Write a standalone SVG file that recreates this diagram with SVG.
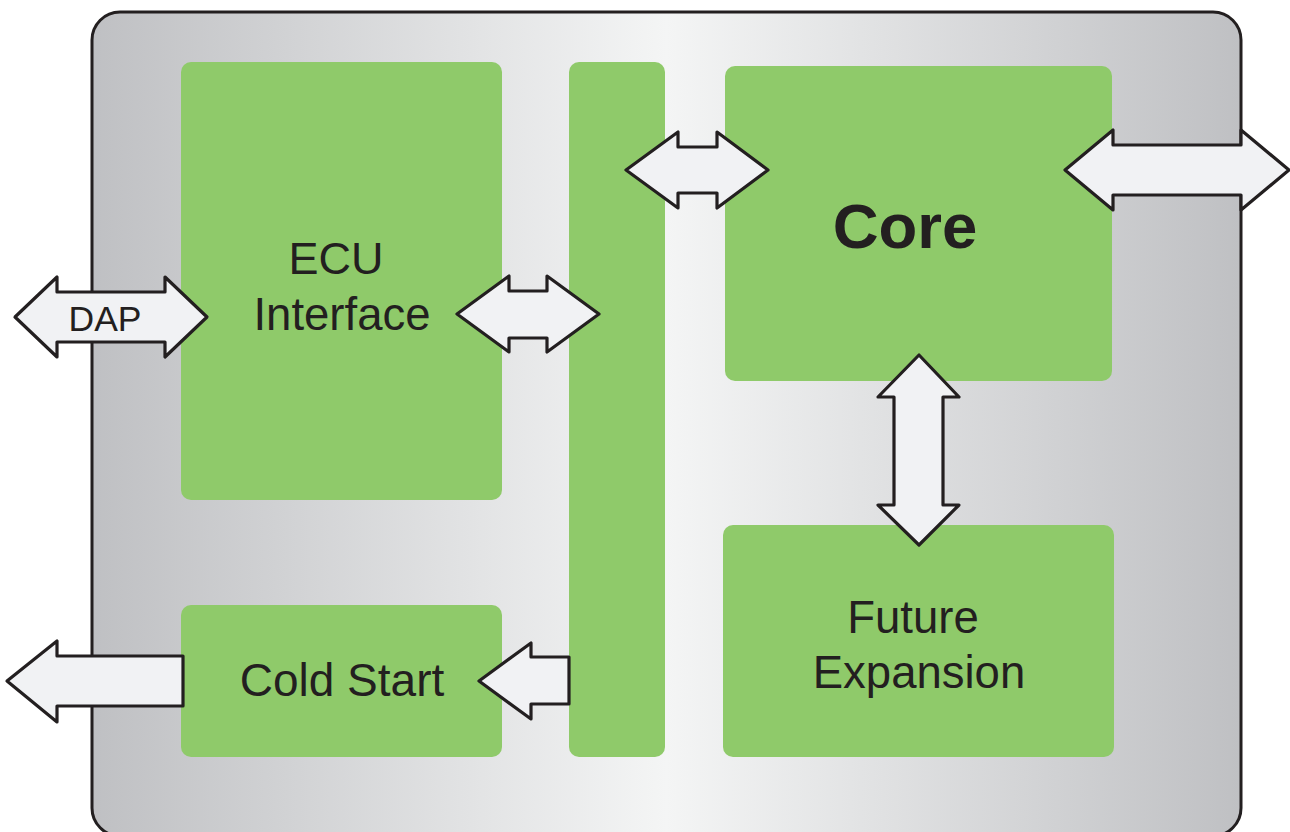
<svg xmlns="http://www.w3.org/2000/svg" width="1290" height="832" viewBox="0 0 1290 832">
<defs>
<linearGradient id="bg" x1="0" y1="0" x2="1" y2="0">
<stop offset="0" stop-color="#bfc0c3"/>
<stop offset="0.5" stop-color="#f4f5f5"/>
<stop offset="1" stop-color="#bfc0c3"/>
</linearGradient>
<style>
.blk{fill:#8fca6a}
.arr{fill:#f1f2f4;stroke:#231f20;stroke-width:3.2;stroke-linejoin:round}
.t{font-family:"Liberation Sans",Arial,sans-serif;fill:#231f20;text-anchor:middle}
</style>
</defs>
<g id="chip">
<rect x="92" y="12" width="1149" height="824" rx="28" fill="url(#bg)" stroke="#231f20" stroke-width="3"/>
</g>
<g id="ecu">
<rect class="blk" x="181" y="62" width="321" height="438" rx="10"/>
<text class="t" x="336" y="274" font-size="45">ECU</text>
<text class="t" x="342" y="330" font-size="45.5">Interface</text>
</g>
<g id="bus">
<rect class="blk" x="569" y="62" width="96" height="695" rx="10"/>
</g>
<g id="core">
<rect class="blk" x="725" y="66" width="387" height="315" rx="10"/>
<text class="t" x="905" y="248" font-size="63.5" font-weight="bold">Core</text>
</g>
<g id="future">
<rect class="blk" x="723" y="525" width="391" height="232" rx="10"/>
<text class="t" x="913" y="633" font-size="45.5">Future</text>
<text class="t" x="919" y="688" font-size="45.5">Expansion</text>
</g>
<g id="coldstart">
<rect class="blk" x="181" y="605" width="321" height="152" rx="10"/>
<text class="t" x="342" y="696" font-size="46">Cold Start</text>
</g>
<g id="connectors">
<path class="arr" d="M15,317 L57,277 L57,292 L165,292 L165,277 L207,317 L165,357 L165,342 L57,342 L57,357 Z"/>
<text class="t" x="105" y="331" font-size="35.5">DAP</text>
<path class="arr" d="M457,314 L509,276 L509,291 L547,291 L547,276 L599,314 L547,352 L547,338 L509,338 L509,352 Z"/>
<path class="arr" d="M626,170 L678,132 L678,147 L717,147 L717,132 L768,170 L717,208 L717,193 L678,193 L678,208 Z"/>
<path class="arr" d="M1065,170 L1113,130 L1113,145 L1241,145 L1241,130 L1289,170 L1241,210 L1241,195 L1113,195 L1113,210 Z"/>
<path class="arr" d="M919,355 L959,397 L943,397 L943,505 L959,505 L919,545 L878,505 L894,505 L894,397 L878,397 Z"/>
<path class="arr" d="M7,681 L57,641 L57,656 L183,656 L183,706 L57,706 L57,722 Z"/>
<path class="arr" d="M479,681 L531,643 L531,657 L569,657 L569,704 L531,704 L531,719 Z"/>
</g>
</svg>
